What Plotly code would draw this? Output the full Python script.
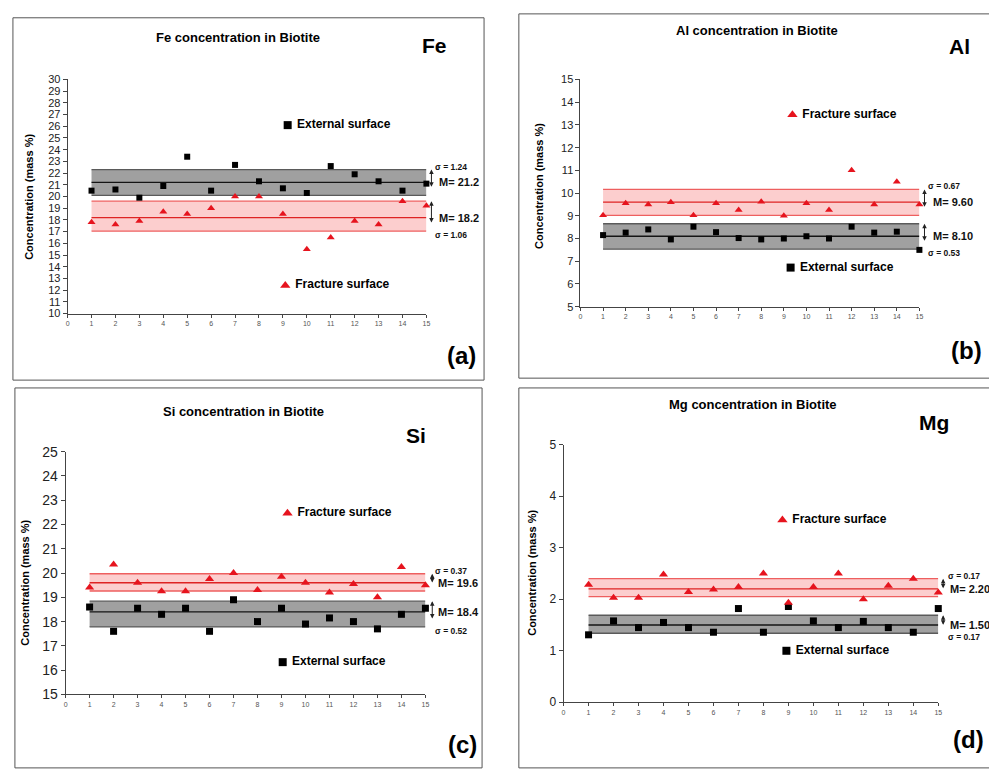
import plotly.graph_objects as go

W, H = 989, 771
FONT = "Liberation Sans"

# ---- measurement data (mass %) for the 15 analysed spots ----
sample_no = list(range(1, 16))
x_ticks = list(range(0, 16))

fe_external = [20.5, 20.6, 19.9, 20.9, 23.4, 20.5, 22.7, 21.3, 20.7, 20.3, 22.6, 21.9, 21.3, 20.5, 21.1]
fe_fracture = [17.8, 17.6, 17.9, 18.7, 18.5, 19.0, 20.0, 20.0, 18.5, 15.5, 16.5, 17.9, 17.6, 19.6, 19.2]
fe_ext_band = [20.1, 22.3]
fe_frac_band = [17.05, 19.6]
fe_ext_mean, fe_ext_sigma = 21.2, 1.24
fe_frac_mean, fe_frac_sigma = 18.2, 1.06

al_external = [8.15, 8.26, 8.4, 7.96, 8.52, 8.28, 8.02, 7.96, 8.0, 8.1, 8.0, 8.52, 8.26, 8.3, 7.5]
al_fracture = [9.02, 9.55, 9.5, 9.6, 9.02, 9.55, 9.25, 9.62, 9.0, 9.55, 9.25, 11.0, 9.5, 10.5, 9.5]
al_ext_band = [7.53, 8.65]
al_frac_band = [9.02, 10.16]
al_ext_mean, al_ext_sigma = 8.10, 0.53
al_frac_mean, al_frac_sigma = 9.60, 0.67

si_external = [18.6, 17.6, 18.55, 18.3, 18.55, 17.6, 18.9, 18.0, 18.55, 17.9, 18.15, 18.0, 17.7, 18.3, 18.55]
si_fracture = [19.4, 20.35, 19.6, 19.25, 19.25, 19.75, 20.0, 19.3, 19.85, 19.6, 19.2, 19.55, 19.0, 20.25, 19.5]
si_ext_band = [17.78, 18.84]
si_frac_band = [19.26, 19.97]
si_ext_mean, si_ext_sigma = 18.4, 0.52
si_frac_mean, si_frac_sigma = 19.6, 0.37

mg_external = [1.31, 1.58, 1.45, 1.55, 1.45, 1.36, 1.82, 1.36, 1.86, 1.58, 1.45, 1.57, 1.45, 1.36, 1.82]
mg_fracture = [2.28, 2.03, 2.03, 2.48, 2.14, 2.19, 2.24, 2.50, 1.93, 2.24, 2.50, 2.0, 2.26, 2.40, 2.13]
mg_ext_band = [1.34, 1.69]
mg_frac_band = [2.05, 2.40]
mg_ext_mean, mg_ext_sigma = 1.50, 0.17
mg_frac_mean, mg_frac_sigma = 2.20, 0.17

# ---- styling ----
GRAY_FILL = "rgb(160,160,160)"
GRAY_EDGE = "rgb(90,90,90)"
GRAY_MEAN = "rgb(20,20,20)"
RED_FILL = "rgb(252,206,206)"
RED_EDGE = "rgb(238,95,95)"
RED_MEAN = "rgb(222,35,35)"
RED_MARK = "rgb(230,20,30)"


def px2x(p):
    return p / W


def px2y(p):
    return 1 - p / H


panels = [
    dict(el="Fe", title="Fe concentration in Biotite", letter="(a)",
         ext=fe_external, frac=fe_fracture,
         ext_band=fe_ext_band, frac_band=fe_frac_band,
         ext_mean=fe_ext_mean, ext_sigma=fe_ext_sigma,
         frac_mean=fe_frac_mean, frac_sigma=fe_frac_sigma, dec=1,
         xpx=(66, 427), ypx=(73, 312), yrange=(10, 30), ytick_size=11,
         ext_top=True, arrow_x=1.014, sig_x=1.019, m_x=1.03,
         ext_leg=(9.2, 26.1), frac_leg=(9.1, 12.4),
         title_pos=(237, 30), el_pos=(435, 38), letter_pos=(462, 355),
         ytitle_pos=(27, 193), box=(11, 10, 485, 380), msize=6),
    dict(el="Al", title="Al concentration in Biotite", letter="(b)",
         ext=al_external, frac=al_fracture,
         ext_band=al_ext_band, frac_band=al_frac_band,
         ext_mean=al_ext_mean, ext_sigma=al_ext_sigma,
         frac_mean=al_frac_mean, frac_sigma=al_frac_sigma, dec=2,
         xpx=(582, 923), ypx=(73, 305), yrange=(5, 15), ytick_size=11,
         ext_top=False, arrow_x=1.015, sig_x=1.018, m_x=1.035,
         ext_leg=(9.3, 6.72), frac_leg=(9.38, 13.45),
         title_pos=(760, 23), el_pos=(963, 39), letter_pos=(970, 350),
         ytitle_pos=(540, 182), box=(520, 6, 996, 378), msize=6),
    dict(el="Si", title="Si concentration in Biotite", letter="(c)",
         ext=si_external, frac=si_fracture,
         ext_band=si_ext_band, frac_band=si_frac_band,
         ext_mean=si_ext_mean, ext_sigma=si_ext_sigma,
         frac_mean=si_frac_mean, frac_sigma=si_frac_sigma, dec=1,
         xpx=(64, 426), ypx=(453, 701), yrange=(15, 25), ytick_size=14,
         ext_top=False, arrow_x=1.019, sig_x=1.022, m_x=1.03,
         ext_leg=(9.05, 16.33), frac_leg=(9.25, 22.46),
         title_pos=(243, 412), el_pos=(417, 437), letter_pos=(463, 752),
         ytitle_pos=(23, 587), box=(13, 388, 483, 776), msize=7),
    dict(el="Mg", title="Mg concentration in Biotite", letter="(d)",
         ext=mg_external, frac=mg_fracture,
         ext_band=mg_ext_band, frac_band=mg_frac_band,
         ext_mean=mg_ext_mean, ext_sigma=mg_ext_sigma,
         frac_mean=mg_frac_mean, frac_sigma=mg_frac_sigma, dec=2,
         xpx=(565, 942), ypx=(446, 709), yrange=(0, 5), ytick_size=12,
         ext_top=False, arrow_x=1.013, sig_x=1.021, m_x=1.026,
         ext_leg=(8.92, 1.0), frac_leg=(8.76, 3.54),
         title_pos=(756, 405), el_pos=(938, 423), letter_pos=(972, 747),
         ytitle_pos=(533, 577), box=(520, 388, 996, 776), msize=7),
]

fig = go.Figure()
annotations = []
shapes = []
layout_axes = {}


def band_traces(xa, ya, band, mean, fill, edge, mean_col):
    lo, hi = band
    x0, x1 = sample_no[0], sample_no[-1]
    fig.add_trace(go.Scatter(x=[x0, x1, x1, x0, x0], y=[lo, lo, hi, hi, lo],
                             xaxis=xa, yaxis=ya, mode="lines", fill="toself",
                             fillcolor=fill, line=dict(width=0),
                             hoverinfo="skip", showlegend=False))
    for yv, col in ((lo, edge), (hi, edge), (mean, mean_col)):
        fig.add_trace(go.Scatter(x=[x0, x1], y=[yv, yv], xaxis=xa, yaxis=ya,
                                 mode="lines", line=dict(color=col, width=1.3),
                                 hoverinfo="skip", showlegend=False))


for i, p in enumerate(panels):
    n = "" if i == 0 else str(i + 1)
    xa, ya = "x" + n, "y" + n

    # shaded mean ± sigma bands
    band_traces(xa, ya, p["ext_band"], p["ext_mean"], GRAY_FILL, GRAY_EDGE, GRAY_MEAN)
    band_traces(xa, ya, p["frac_band"], p["frac_mean"], RED_FILL, RED_EDGE, RED_MEAN)

    # measured points
    fig.add_trace(go.Scatter(x=sample_no, y=p["ext"], xaxis=xa, yaxis=ya, mode="markers",
                             marker=dict(symbol="square", size=p["msize"], color="black"),
                             cliponaxis=False, showlegend=False))
    fig.add_trace(go.Scatter(x=sample_no, y=p["frac"], xaxis=xa, yaxis=ya, mode="markers",
                             marker=dict(symbol="triangle-up", size=p["msize"] + 1, color=RED_MARK),
                             cliponaxis=False, showlegend=False))

    # in-plot keys
    key_font = dict(family=FONT, size=12, color="black", weight="bold")
    fig.add_trace(go.Scatter(x=[p["ext_leg"][0]], y=[p["ext_leg"][1]], xaxis=xa, yaxis=ya,
                             mode="markers+text", text=[" External surface"],
                             textposition="middle right", textfont=key_font,
                             marker=dict(symbol="square", size=8, color="black"),
                             cliponaxis=False, showlegend=False, hoverinfo="skip"))
    fig.add_trace(go.Scatter(x=[p["frac_leg"][0]], y=[p["frac_leg"][1]], xaxis=xa, yaxis=ya,
                             mode="markers+text", text=[" Fracture surface"],
                             textposition="middle right", textfont=key_font,
                             marker=dict(symbol="triangle-up", size=9, color=RED_MARK),
                             cliponaxis=False, showlegend=False, hoverinfo="skip"))

    layout_axes["xaxis" + n] = dict(
        domain=[px2x(p["xpx"][0]), px2x(p["xpx"][1])], anchor=ya,
        range=[0, 15], tickvals=x_ticks, ticktext=[str(t) for t in x_ticks],
        showgrid=False, zeroline=False, showline=True, linecolor="#444", linewidth=1,
        ticks="outside", ticklen=3, tickcolor="#444",
        tickfont=dict(family=FONT, size=7, color="#555"), fixedrange=True)
    y0, y1 = p["yrange"]
    layout_axes["yaxis" + n] = dict(
        domain=[px2y(p["ypx"][1]), px2y(p["ypx"][0])], anchor=xa,
        range=[y0, y1], dtick=1, tick0=0,
        showgrid=False, zeroline=False, showline=True, linecolor="#444", linewidth=1,
        ticks="outside", ticklen=4, tickcolor="#444",
        tickfont=dict(family=FONT, size=p["ytick_size"], color="#222"), fixedrange=True)

    # mean / sigma markers to the right of the bands
    fmt = "{:.%df}" % p["dec"]
    if p["ext_top"]:
        top = (p["ext_band"], p["ext_mean"], p["ext_sigma"])
        bot = (p["frac_band"], p["frac_mean"], p["frac_sigma"])
    else:
        top = (p["frac_band"], p["frac_mean"], p["frac_sigma"])
        bot = (p["ext_band"], p["ext_mean"], p["ext_sigma"])
    dref = xa + " domain"
    sig_font = dict(family=FONT, size=8.5, color="#111", weight="bold")
    for band, mean, sigma in (top, bot):
        annotations.append(dict(xref=dref, yref=ya, axref=dref, ayref=ya,
                                x=p["arrow_x"], y=band[1], ax=p["arrow_x"], ay=band[0],
                                showarrow=True, arrowhead=2, arrowside="end+start",
                                arrowsize=0.9, arrowwidth=1, arrowcolor="#222",
                                standoff=0, startstandoff=0))
        annotations.append(dict(xref=dref, yref=ya, x=p["m_x"], y=mean,
                                text="M= " + fmt.format(mean), showarrow=False,
                                xanchor="left", yanchor="middle",
                                font=dict(family=FONT, size=11, color="#111", weight="bold")))
    annotations.append(dict(xref=dref, yref=ya, x=p["sig_x"], y=top[0][1], yshift=3,
                            text="σ = {:.2f}".format(top[2]), showarrow=False,
                            xanchor="left", yanchor="middle", font=sig_font))
    annotations.append(dict(xref=dref, yref=ya, x=p["sig_x"], y=bot[0][0], yshift=-4,
                            text="σ = {:.2f}".format(bot[2]), showarrow=False,
                            xanchor="left", yanchor="middle", font=sig_font))

    # titles and labels
    annotations.append(dict(xref="paper", yref="paper", x=px2x(p["title_pos"][0]), y=px2y(p["title_pos"][1]),
                            text=p["title"], showarrow=False, xanchor="center", yanchor="middle",
                            font=dict(family=FONT, size=13, color="black", weight="bold")))
    annotations.append(dict(xref="paper", yref="paper", x=px2x(p["el_pos"][0]), y=px2y(p["el_pos"][1]),
                            text=p["el"], showarrow=False, xanchor="center", yanchor="middle",
                            font=dict(family=FONT, size=21, color="black", weight="bold")))
    annotations.append(dict(xref="paper", yref="paper", x=px2x(p["letter_pos"][0]), y=px2y(p["letter_pos"][1]),
                            text=p["letter"], showarrow=False, xanchor="center", yanchor="middle",
                            font=dict(family=FONT, size=24, color="black", weight="bold")))
    annotations.append(dict(xref="paper", yref="paper", x=px2x(p["ytitle_pos"][0]), y=px2y(p["ytitle_pos"][1]),
                            text="Concentration (mass %)", showarrow=False, textangle=-90,
                            xanchor="center", yanchor="middle",
                            font=dict(family=FONT, size=11, color="black", weight="bold")))

    bx0, by0, bx1, by1 = p["box"]
    shapes.append(dict(type="rect", xref="paper", yref="paper",
                       x0=px2x(bx0), x1=px2x(bx1), y0=px2y(by1), y1=px2y(by0),
                       line=dict(color="#555", width=1), fillcolor="rgba(0,0,0,0)"))

fig.update_layout(
    width=W, height=H, margin=dict(l=0, r=0, t=0, b=0),
    paper_bgcolor="white", plot_bgcolor="white",
    showlegend=False, annotations=annotations, shapes=shapes,
    font=dict(family=FONT), **layout_axes)

fig.write_html("out.html")
